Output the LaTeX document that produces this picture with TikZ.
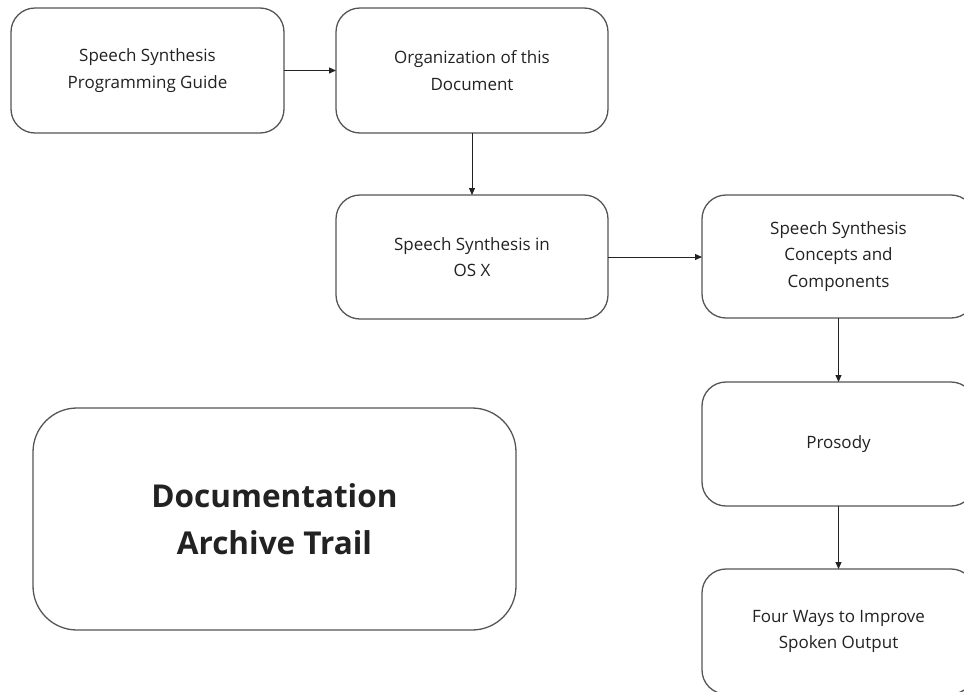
\documentclass[tikz,border=0pt]{standalone}
\usepackage{fontspec}
\setmainfont{Open Sans}
\usetikzlibrary{arrows.meta}
\definecolor{edge}{HTML}{555555}
\definecolor{ink}{HTML}{222222}
\tikzset{
  card/.style={draw=edge, line width=1.3pt, rounded corners=24pt, rectangle,
    minimum width=273pt, minimum height=125pt, inner sep=0pt, outer sep=0pt,
    align=center, text=ink, font=\fontsize{17}{26.5}\selectfont},
  bigcard/.style={card, rounded corners=44pt, minimum width=483pt, minimum height=222pt,
    font=\bfseries\fontsize{31.5}{47}\selectfont},
  link/.style={draw=ink, line width=1pt, -{Triangle[length=7pt,width=6pt]}}
}
\begin{document}
\begin{tikzpicture}[x=1pt,y=-1pt]
\useasboundingbox (0,0) rectangle (964,691);
\clip (0,0) rectangle (964,691);
\fill[white] (0,0) rectangle (964,691);
\node[card] (b1) at (147.5,70.5) {Speech Synthesis\\Programming Guide};
\node[card, minimum width=272pt] (b2) at (472,70.5) {Organization of this\\Document};
\node[card, minimum width=272pt, minimum height=124pt] (b3) at (472,257) {Speech Synthesis in\\OS X};
\node[card, minimum height=123pt] (b4) at (838.5,256.5) {Speech Synthesis\\Concepts and\\Components};
\node[card, minimum height=124pt] (b5) at (838.5,444) {Prosody};
\node[card] (b6) at (838.5,631.5) {Four Ways to Improve\\Spoken Output};
\node[bigcard] (b7) at (274.5,519) {Documentation\\Archive Trail};
\draw[link] (b1.east) -- (b2.west);
\draw[link] (b2.south) -- (b3.north);
\draw[link] (b3.east) -- (b3.east -| b4.west);
\draw[link] (b4.south) -- (b5.north);
\draw[link] (b5.south) -- (b6.north);
\end{tikzpicture}
\end{document}
